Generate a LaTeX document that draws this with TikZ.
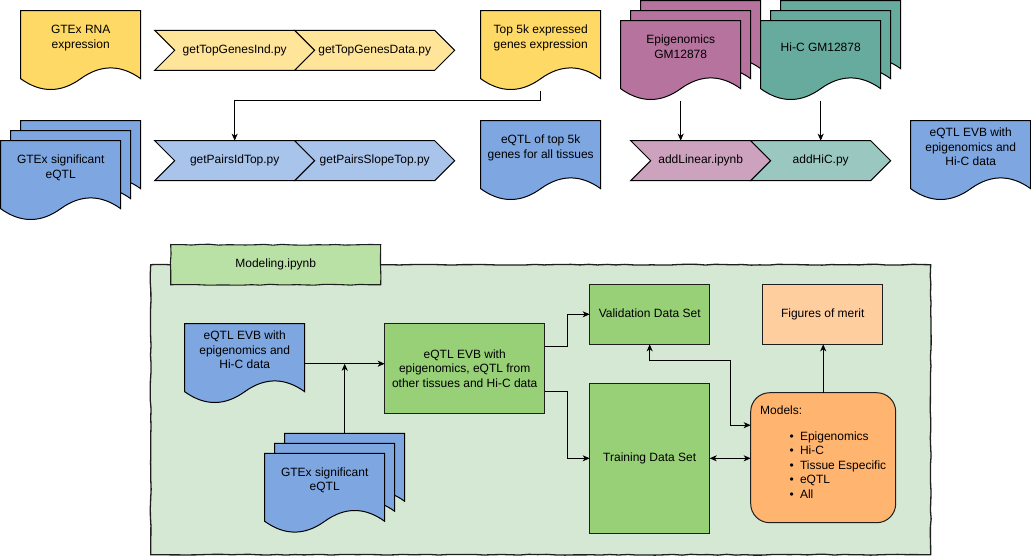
\documentclass[tikz,border=0pt]{standalone}
\usepackage{fontspec}
\setmainfont{Liberation Sans}
\usetikzlibrary{arrows.meta,shadows,decorations.pathmorphing}

\definecolor{docYellow}{HTML}{FFD966}
\definecolor{stepYellow}{HTML}{FFE599}
\definecolor{docBlue}{HTML}{7EA6E0}
\definecolor{stepBlue}{HTML}{A9C4EB}
\definecolor{docMauve}{HTML}{B5739D}
\definecolor{stepMauve}{HTML}{CDA2BE}
\definecolor{docTeal}{HTML}{67AB9F}
\definecolor{stepTeal}{HTML}{9AC7BF}
\definecolor{panelGreen}{HTML}{D5E8D4}
\definecolor{tabGreen}{HTML}{B9E0A5}
\definecolor{boxGreen}{HTML}{97D077}
\definecolor{meritPeach}{HTML}{FFCE9F}
\definecolor{modelOrange}{HTML}{FFB570}
\definecolor{edgeDark}{HTML}{1E1E1E}

\makeatletter
\newdimen\shpL \newdimen\shpR \newdimen\shpB \newdimen\shpT
\newdimen\shpW \newdimen\shpH \newdimen\shpD \newdimen\shpM
\def\shp@frame{%
  \southwest \shpL=\pgf@x \shpB=\pgf@y
  \northeast \shpR=\pgf@x \shpT=\pgf@y
  \shpW=\shpR \advance\shpW by -\shpL
  \shpH=\shpT \advance\shpH by -\shpB}
% sheet of paper with a wavy lower edge
\pgfdeclareshape{docpage}{%
  \inheritsavedanchors[from=rectangle]%
  \inheritanchorborder[from=rectangle]%
  \inheritanchor[from=rectangle]{center}%
  \inheritanchor[from=rectangle]{north}%
  \inheritanchor[from=rectangle]{south}%
  \inheritanchor[from=rectangle]{east}%
  \inheritanchor[from=rectangle]{west}%
  \inheritanchor[from=rectangle]{north east}%
  \inheritanchor[from=rectangle]{north west}%
  \inheritanchor[from=rectangle]{south east}%
  \inheritanchor[from=rectangle]{south west}%
  \backgroundpath{%
    \shp@frame
    \shpD=0.3\shpH
    \pgfpathmoveto{\pgfqpoint{\shpL}{\shpT}}%
    \pgfpathlineto{\pgfqpoint{\shpR}{\shpT}}%
    \pgfpathlineto{\pgfpoint{\shpR}{\shpB+0.5*\shpD}}%
    \pgfpathquadraticcurveto{\pgfpoint{\shpL+0.75*\shpW}{\shpB+1.4*\shpD}}{\pgfpoint{\shpL+0.5*\shpW}{\shpB+0.5*\shpD}}%
    \pgfpathquadraticcurveto{\pgfpoint{\shpL+0.25*\shpW}{\shpB-0.4*\shpD}}{\pgfpoint{\shpL}{\shpB+0.5*\shpD}}%
    \pgfpathclose
  }%
}
% process step: notch on the left, point on the right
\pgfdeclareshape{stepchev}{%
  \inheritsavedanchors[from=rectangle]%
  \inheritanchorborder[from=rectangle]%
  \inheritanchor[from=rectangle]{center}%
  \inheritanchor[from=rectangle]{north}%
  \inheritanchor[from=rectangle]{south}%
  \inheritanchor[from=rectangle]{east}%
  \inheritanchor[from=rectangle]{west}%
  \inheritanchor[from=rectangle]{north east}%
  \inheritanchor[from=rectangle]{north west}%
  \inheritanchor[from=rectangle]{south east}%
  \inheritanchor[from=rectangle]{south west}%
  \backgroundpath{%
    \shp@frame
    \shpD=20pt
    \shpM=\shpB \advance\shpM by 0.5\shpH
    \pgfpathmoveto{\pgfqpoint{\shpL}{\shpT}}%
    \pgfpathlineto{\pgfpoint{\shpR-\shpD}{\shpT}}%
    \pgfpathlineto{\pgfqpoint{\shpR}{\shpM}}%
    \pgfpathlineto{\pgfpoint{\shpR-\shpD}{\shpB}}%
    \pgfpathlineto{\pgfqpoint{\shpL}{\shpB}}%
    \pgfpathlineto{\pgfpoint{\shpL+\shpD}{\shpM}}%
    \pgfpathclose
  }%
}
\makeatother

% text of a sheet sits in the part above the wave
\newcommand\pagetext[1]{\raisebox{9.5pt}[0pt][0pt]{\begin{tabular}{@{}c@{}}#1\end{tabular}}}

\tikzset{
  every node/.style={outer sep=0pt, inner sep=0pt, font=\fontsize{12}{14.5}\selectfont},
  oneline/.style={text height=8.6pt, text depth=2.6pt},
  page/.style={shape=docpage, draw=black, line width=1pt, minimum width=120pt,
    minimum height=80pt, anchor=north west},
  pagestack/.style={page, fill=#1,
    copy shadow={shadow xshift=20pt, shadow yshift=20pt, fill=#1, draw=black, line width=1pt},
    copy shadow={shadow xshift=10pt, shadow yshift=10pt, fill=#1, draw=black, line width=1pt}},
  chev/.style={shape=stepchev, draw=black, line width=1pt, minimum height=40pt,
    anchor=north west, oneline},
  panel/.style={draw=edgeDark, line width=1.3pt, fill=panelGreen, anchor=north west,
    decorate, decoration={random steps, segment length=9pt, amplitude=0.45pt}},
  tab/.style={draw=edgeDark, line width=1.1pt, fill=tabGreen, anchor=north west, oneline,
    decorate, decoration={random steps, segment length=9pt, amplitude=0.45pt}},
  box/.style={draw=edgeDark, line width=1pt, anchor=north west},
  arr/.style={draw=black, line width=1pt, -{Stealth[length=7pt,width=6pt,inset=2pt]}},
  arrboth/.style={draw=black, line width=1pt,
    {Stealth[length=7pt,width=6pt,inset=2pt]}-{Stealth[length=7pt,width=6pt,inset=2pt]}},
}

\begin{document}
\pgfmathsetseed{11}
\begin{tikzpicture}[x=1pt,y=-1pt]
\useasboundingbox (0,0) rectangle (1031,555);

% ---- gene expression branch
\node[page, fill=docYellow] (rna) at (20.7,10.7) {\pagetext{GTEx RNA\\expression}};
\node[chev, minimum width=160pt, fill=stepYellow] (topind) at (154.7,30.3) {getTopGenesInd.py};
\node[chev, minimum width=160pt, fill=stepYellow] (topdata) at (294.7,30.3) {getTopGenesData.py};
\node[page, fill=docYellow] (top5k) at (480.7,10.7) {\pagetext{Top 5k expressed\\genes expression}};

% ---- GM12878 annotation sources
\node[pagestack=docMauve] (epi) at (620.7,20.7) {\pagetext{Epigenomics\\GM12878}};
\node[pagestack=docTeal] (hic) at (760.7,20.7) {\pagetext{Hi-C GM12878}};

% ---- eQTL branch
\node[pagestack=docBlue] (gtex1) at (0.7,140.7) {\pagetext{GTEx significant\\eQTL}};
\node[chev, minimum width=160pt, fill=stepBlue] (pairs1) at (154.7,140.7) {getPairsIdTop.py};
\node[chev, minimum width=160pt, fill=stepBlue] (pairs2) at (294.7,140.7) {getPairsSlopeTop.py};
\node[page, fill=docBlue] (eqtltop) at (480.7,120.7) {\pagetext{eQTL of top 5k\\genes for all tissues}};

\node[chev, minimum width=140pt, fill=stepMauve] (addlin) at (630.7,140.7) {addLinear.ipynb};
\node[chev, minimum width=140pt, fill=stepTeal] (addhic) at (750.7,140.7) {addHiC.py};
\node[page, fill=docBlue] (evbtop) at (910.7,120.7) {\pagetext{eQTL EVB with\\epigenomics and\\Hi-C data}};

\draw[arr] (top5k.south) -- ++(0,10) -| (pairs1.north);
\draw[arr] (epi.south) -- (epi.south |- addlin.north);
\draw[arr] (hic.south) -- (hic.south |- addhic.north);

% ---- modelling notebook
\node[panel, minimum width=780pt, minimum height=290pt] (panel) at (150.7,264.7) {};
\node[tab, minimum width=210pt, minimum height=40pt] (nb) at (170.7,244.7) {Modeling.ipynb};

\node[page, fill=docBlue] (evb2) at (184.7,323.7) {\pagetext{eQTL EVB with\\epigenomics and\\Hi-C data}};
\node[pagestack=docBlue] (gtex2) at (264.7,453.3) {\pagetext{GTEx significant\\eQTL}};
\node[box, fill=boxGreen, minimum width=160pt, minimum height=90pt, align=center] (merged)
  at (384.7,323.7) {eQTL EVB with\\epigenomics, eQTL from\\other tissues and Hi-C data};
\node[box, fill=boxGreen, minimum width=120pt, minimum height=60pt, oneline] (valid)
  at (589.7,284.3) {Validation Data Set};
\node[box, fill=boxGreen, minimum width=120pt, minimum height=150pt, oneline] (train)
  at (589.7,383.3) {Training Data Set};
\node[box, fill=meritPeach, minimum width=120pt, minimum height=60pt, oneline] (figs)
  at (762.7,284.3) {Figures of merit};
\node[box, fill=modelOrange, rounded corners=19pt, minimum width=145pt, minimum height=130pt] (models)
  at (750.7,392.7) {\raisebox{43.4pt}[0pt][0pt]{\makebox[126pt][l]{\begin{tabular}[t]{@{}l@{}}
    Models:\\[11.2pt]
    \hspace*{29.4pt}\textbullet\hspace*{6.2pt}Epigenomics\\
    \hspace*{29.4pt}\textbullet\hspace*{6.2pt}Hi-C\\
    \hspace*{29.4pt}\textbullet\hspace*{6.2pt}Tissue Especific\\
    \hspace*{29.4pt}\textbullet\hspace*{6.2pt}eQTL\\
    \hspace*{29.4pt}\textbullet\hspace*{6.2pt}All
  \end{tabular}}}};

\coordinate (gtex2top) at ([xshift=20pt,yshift=20pt]gtex2.north);
\draw[arr] (evb2.east) -- (evb2.east -| merged.west);
\draw[arr] (gtex2top) -- (gtex2top |- evb2.east);
\draw[arr] ([yshift=22.5pt]merged.east) -- ++(22.6,0) |- (valid.west);
\draw[arr] ([yshift=-22.5pt]merged.east) -- ++(22.6,0) |- (train.west);
\draw[arrboth] (valid.south) -- ++(0,15.7) -| ([xshift=-20pt,yshift=32.5pt]models.west)
  -- ([yshift=32.5pt]models.west);
\draw[arrboth] (train.east) -- (train.east -| models.west);
\draw[arr] (models.north) -- (models.north |- figs.south);
\end{tikzpicture}
\end{document}
